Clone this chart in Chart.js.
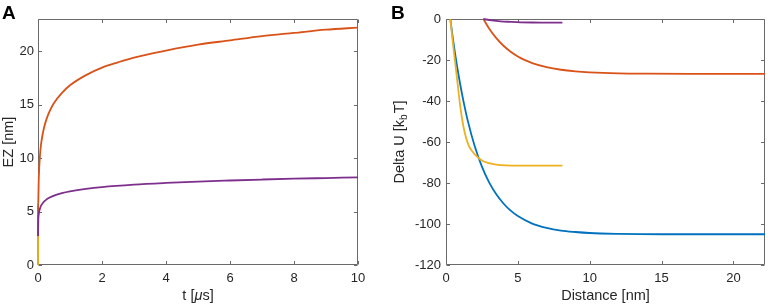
<!DOCTYPE html>
<html>
<head>
<meta charset="utf-8">
<script src="https://cdn.jsdelivr.net/npm/chart.js@4"></script>
<style>
    html, body { margin: 0; padding: 0; background: #fff; }
    #wrap { position: relative; width: 768px; height: 307px; overflow: hidden; }
    .panel { position: absolute; top: 0; width: 384px; height: 307px; }
    .tag { position: absolute; top: 3px; font: bold 19px "Liberation Sans", Arial, sans-serif; line-height: 19px; color: #000; }
</style>
</head>
<body>
<div id="wrap">
    <div class="panel" style="left:0"><canvas id="chartA"></canvas></div>
    <div class="panel" style="left:384px"><canvas id="chartB"></canvas></div>
    <div class="tag" style="left:2px">A</div>
    <div class="tag" style="left:391px">B</div>
</div>
<script>
// Panel A - EZ vs time
const tTicks = [0, 2, 4, 6, 8, 10];
const ezTicks = [0, 5, 10, 15, 20];
const tOrange = [0, 0, 0.01, 0.02, 0.04, 0.07, 0.1, 0.17, 0.25, 0.35, 0.5, 0.75, 1, 1.5, 2, 2.5, 3, 4, 5, 6, 7, 8, 9, 10];
const ezOrange = [0, 5.5, 6.0, 7.6, 9.2, 10.55, 11.4, 12.6, 13.5, 14.3, 15.15, 16.1, 16.8, 17.75, 18.45, 18.95, 19.4, 20.05, 20.6, 21.0, 21.4, 21.7, 22.0, 22.2];
const tPurple = [0, 0.01, 0.02, 0.04, 0.07, 0.1, 0.17, 0.25, 0.35, 0.5, 0.75, 1, 1.5, 2, 3, 4, 5, 6, 7, 8, 9, 10];
const ezPurple = [2.7, 4.26, 4.65, 5.05, 5.36, 5.57, 5.87, 6.09, 6.28, 6.49, 6.72, 6.88, 7.11, 7.28, 7.51, 7.67, 7.8, 7.9, 7.99, 8.07, 8.13, 8.19];
const tYellow = [0, 0];
const ezYellow = [0, 2.7];

// Panel B - Delta U vs distance
const dTicks = [0, 5, 10, 15, 20];
const uTicks = [0, -20, -40, -60, -80, -100, -120];
const dBlue = [0.3, 0.5, 0.75, 1.0, 1.25, 1.5, 2.0, 2.5, 3.0, 3.5, 4.0, 4.5, 5.0, 6.0, 7.0, 8.0, 9.0, 10, 12, 15, 22.2];
const uBlue = [0, -10.5, -22.2, -32.3, -41.3, -49.2, -62.1, -72, -79.7, -85.5, -90, -93.5, -96.1, -99.8, -101.9, -103.2, -103.9, -104.4, -104.8, -105, -105];
const dYellow = [0.3, 0.5, 0.65, 0.8, 1.0, 1.2, 1.4, 1.6, 1.8, 2.0, 2.5, 3.0, 3.5, 4.2, 5.0, 8.1];
const uYellow = [0, -13, -22, -31, -43, -52, -58, -62, -64.3, -66, -69, -70.3, -71, -71.4, -71.5, -71.5];
const dOrange = [2.6, 3.0, 3.5, 4.0, 4.5, 5.0, 5.5, 6.0, 7.0, 8.0, 9.0, 10, 12, 14, 17, 22.2];
const uOrange = [0, -4.6, -9.35, -13.05, -15.95, -18.25, -20.07, -21.5, -23.5, -24.75, -25.53, -26.0, -26.5, -26.68, -26.77, -26.8];
const dPurple = [2.6, 3.2, 3.8, 4.5, 5.2, 6.0, 7.0, 8.1];
const uPurple = [0, -0.7, -1.15, -1.4, -1.6, -1.7, -1.75, -1.8];

const BLUE = '#0072BD', ORANGE = '#D95319', YELLOW = '#EDB120', PURPLE = '#7E2F8E';
const FONT = '"Liberation Sans", Arial, sans-serif';
const TXT = '#262626';

Chart.defaults.font.family = FONT;
Chart.defaults.color = TXT;

const pts = (xs, ys) => xs.map((x, i) => ({ x: x, y: ys[i] }));

function line(label, xs, ys, color) {
    return {
        label: label,
        data: pts(xs, ys),
        borderColor: color,
        borderWidth: 1.8,
        pointRadius: 0,
        cubicInterpolationMode: 'monotone',
        clip: false
    };
}

// box round the axes with inward ticks, like matlab
const frameTicks = {
    id: 'frameTicks',
    beforeDatasetsDraw(chart) {
        const { ctx, chartArea: a, scales: { x, y } } = chart;
        const L = Math.round(a.left) + 0.5, R = Math.round(a.right) - 0.5;
        const T = Math.round(a.top) + 0.5, B = Math.round(a.bottom) - 0.5;
        ctx.save();
        ctx.strokeStyle = '#6a6a6a';
        ctx.lineWidth = 1;
        ctx.beginPath();
        x.ticks.forEach(t => {
            const px = Math.round(x.getPixelForValue(t.value)) + 0.5;
            ctx.moveTo(px, B); ctx.lineTo(px, B - 3.5);
            ctx.moveTo(px, T); ctx.lineTo(px, T + 3.5);
        });
        y.ticks.forEach(t => {
            const py = Math.round(y.getPixelForValue(t.value)) + 0.5;
            ctx.moveTo(L, py); ctx.lineTo(L + 3.5, py);
            ctx.moveTo(R, py); ctx.lineTo(R - 3.5, py);
        });
        ctx.rect(L, T, R - L, B - T);
        ctx.stroke();
        ctx.restore();
    }
};

function drawParts(ctx, parts) {
    let w = 0;
    parts.forEach(p => { ctx.font = p.font; w += ctx.measureText(p.text).width + (p.gap || 0); });
    let cx = -w / 2;
    parts.forEach(p => {
        ctx.font = p.font;
        ctx.fillText(p.text, cx, p.dy || 0);
        cx += ctx.measureText(p.text).width + (p.gap || 0);
    });
}

const timeTitle = {
    id: 'timeTitle',
    afterDraw(chart) {
        const { ctx, chartArea: a } = chart;
        ctx.save();
        ctx.fillStyle = TXT;
        ctx.textBaseline = 'middle';
        ctx.translate((a.left + a.right) / 2, 296);
        drawParts(ctx, [
            { text: 't [', font: '14.5px ' + FONT },
            { text: 'μ', font: 'italic 14.5px ' + FONT },
            { text: 's]', font: '14.5px ' + FONT }
        ]);
        ctx.restore();
    }
};

const energyTitle = {
    id: 'energyTitle',
    afterDraw(chart) {
        const { ctx, chartArea: a } = chart;
        ctx.save();
        ctx.fillStyle = TXT;
        ctx.textBaseline = 'middle';
        ctx.translate(16, (a.top + a.bottom) / 2);
        ctx.rotate(-Math.PI / 2);
        drawParts(ctx, [
            { text: 'Delta U [k', font: '14.5px ' + FONT },
            { text: 'b', font: '10px ' + FONT, dy: 4, gap: 1 },
            { text: 'T]', font: '14.5px ' + FONT }
        ]);
        ctx.restore();
    }
};

function axis(min, max, tickList, opts) {
    return Object.assign({
        type: 'linear',
        min: min,
        max: max,
        grid: { display: false, drawTicks: false },
        border: { display: false },
        ticks: { font: { size: 13 }, color: TXT, padding: 6 },
        afterBuildTicks: s => { s.ticks = tickList.map(v => ({ value: v })); }
    }, opts);
}

new Chart(document.getElementById('chartA'), {
    type: 'line',
    data: {
        datasets: [
            line('purple', tPurple, ezPurple, PURPLE),
            line('yellow', tYellow, ezYellow, YELLOW),
            line('orange', tOrange, ezOrange, ORANGE)
        ]
    },
    options: {
        responsive: true,
        maintainAspectRatio: false,
        animation: false,
        layout: { padding: { left: 0, right: 26, top: 19, bottom: 0 } },
        plugins: { legend: { display: false }, tooltip: { enabled: false } },
        scales: {
            x: axis(0, 10, tTicks, { afterFit: s => { s.height = 42; } }),
            y: axis(0, 23, ezTicks, {
                afterFit: s => { s.width = 38; },
                ticks: { font: { size: 13 }, color: TXT, padding: 4 },
                title: { display: true, text: 'EZ [nm]', font: { size: 14.5 }, color: TXT, padding: { top: 0, bottom: 0 } }
            })
        }
    },
    plugins: [frameTicks, timeTitle]
});

new Chart(document.getElementById('chartB'), {
    type: 'line',
    data: {
        datasets: [
            line('purple', dPurple, uPurple, PURPLE),
            line('yellow', dYellow, uYellow, YELLOW),
            line('orange', dOrange, uOrange, ORANGE),
            line('blue', dBlue, uBlue, BLUE)
        ]
    },
    options: {
        responsive: true,
        maintainAspectRatio: false,
        animation: false,
        layout: { padding: { left: 0, right: 3, top: 19, bottom: 0 } },
        plugins: { legend: { display: false }, tooltip: { enabled: false } },
        scales: {
            x: axis(0, 22.2, dTicks, {
                afterFit: s => { s.height = 42; },
                title: { display: true, text: 'Distance [nm]', font: { size: 14.5 }, color: TXT, padding: { top: 0, bottom: 2 } }
            }),
            y: axis(-120, 0, uTicks, {
                afterFit: s => { s.width = 62; },
                ticks: { font: { size: 13 }, color: TXT, padding: 5 }
            })
        }
    },
    plugins: [frameTicks, energyTitle]
});
</script>
</body>
</html>
